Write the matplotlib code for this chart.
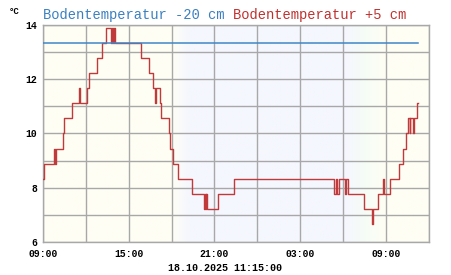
import numpy as np
import pandas as pd
import matplotlib
matplotlib.use("Agg")
import matplotlib.pyplot as plt
import matplotlib.dates as mdates
from matplotlib.colors import to_rgb

# hours after 17.10.2025 09:00, step values in degC
red_hours = [0.0, 0.07, 0.77, 0.84, 0.91, 1.37, 1.49, 2.01, 2.52, 2.57, 3.06, 3.24,
             3.76, 4.16, 4.41, 4.77, 4.84, 4.91, 4.98, 5.05, 6.85, 7.45, 7.73, 7.85,
             7.92, 8.20, 8.27, 8.83, 8.92, 9.13, 9.48, 10.42, 11.25, 11.32, 11.40,
             11.44, 11.47, 12.24, 13.38, 20.39, 20.50, 20.56, 20.72, 21.16, 21.20,
             21.32, 22.50, 23.03, 23.07, 23.45, 23.80, 23.84, 24.32, 24.90, 25.20,
             25.44, 25.56, 25.67, 25.72, 25.90, 25.98, 26.19, 26.25]
red_vals = [8.33, 8.89, 9.44, 8.89, 9.44, 10.00, 10.56, 11.11, 11.67, 11.11, 11.67, 12.22,
            12.78, 13.33, 13.89, 13.33, 13.89, 13.33, 13.89, 13.33, 12.78, 12.22, 11.67, 11.11,
            11.67, 11.11, 10.56, 10.00, 9.44, 8.89, 8.33, 7.78, 7.22, 7.78, 7.22,
            7.78, 7.22, 7.78, 8.33, 7.78, 8.33, 7.78, 8.33, 7.78, 8.33,
            7.78, 7.22, 6.67, 7.22, 7.78, 8.33, 7.78, 8.33, 8.89, 9.44,
            10.00, 10.56, 10.00, 10.56, 10.00, 10.56, 11.11, 11.11]
blue_hours = [0.0, 26.25]
blue_vals = [13.33, 13.33]

start = pd.Timestamp("2025-10-17 09:00")
end = pd.Timestamp("2025-10-18 12:00")
stamp = "18.10.2025 11:15:00"
title_blue = "Bodentemperatur -20 cm"
title_red = "Bodentemperatur +5 cm"

red_t = start + pd.to_timedelta(red_hours, unit="h")
blue_t = start + pd.to_timedelta(blue_hours, unit="h")

fig = plt.figure(figsize=(4.51, 2.75), dpi=100)
ax = fig.add_axes([0.0953, 0.1189, 0.8553, 0.7913])

# day / night background
day = np.array(to_rgb("#fffef4"))
night = np.array(to_rgb("#f5f7fe"))
mid = np.array(to_rgb("#f6fdf6"))
xs = np.linspace(0, 27, 541)
cols = []
for h in xs:
    if h < 9:
        c = day
    elif h < 10.2:
        f = (h - 9) / 1.2
        c = day * (1 - f) + night * f
    elif h < 21.3:
        c = night
    elif h < 22.6:
        f = (h - 21.3) / 1.3
        c = night * (1 - f) + mid * f
    elif h < 24.0:
        f = (h - 22.6) / 1.4
        c = mid * (1 - f) + day * f
    else:
        c = day
    cols.append(c)
img = np.array(cols)[None, :, :]
x0, x1 = mdates.date2num(start), mdates.date2num(end)
ax.imshow(img, extent=[x0, x1, 6, 14], aspect="auto", zorder=0, interpolation="bilinear")

ax.step(red_t, red_vals, where="post", color="#c0393b", lw=1.0, zorder=4)
ax.plot(blue_t, blue_vals, color="#3f87c8", lw=1.1, zorder=5)

ax.set_xlim(x0, x1)
ax.set_ylim(6, 14)
ax.xaxis.set_major_locator(mdates.HourLocator(byhour=[3, 9, 15, 21]))
ax.xaxis.set_minor_locator(mdates.HourLocator(byhour=[0, 6, 12, 18]))
ax.xaxis.set_major_formatter(mdates.DateFormatter("%H:%M"))
ax.set_yticks([6, 8, 10, 12, 14])
ax.set_yticks([7, 9, 11, 13], minor=True)
ax.grid(True, which="both", color="#a8a8a8", lw=1.0, zorder=1)
for line in ax.get_xgridlines() + ax.get_ygridlines():
    line.set_zorder(1)
ax.tick_params(which="both", length=0, labelsize=7.0)
ax.tick_params(axis="x", pad=5)
ax.tick_params(axis="y", pad=4)
for lab in ax.get_xticklabels() + ax.get_yticklabels():
    lab.set_family("Liberation Mono")
    lab.set_fontweight("bold")
for s in ax.spines.values():
    s.set_color("#a8a8a8")
    s.set_linewidth(1.0)

fig.text(0.02, 0.975, "°C", fontsize=6.5, fontweight="bold", family="Liberation Mono",
         va="top", ha="left")
fig.text(0.095, 0.972, title_blue, fontsize=9.9, color="#3a80c0", family="Liberation Mono",
         va="top", ha="left")
fig.text(0.516, 0.972, title_red, fontsize=9.9, color="#c0302f", family="Liberation Mono",
         va="top", ha="left")
fig.text(0.5, 0.008, stamp, fontsize=7.2, fontweight="bold", family="Liberation Mono",
         va="bottom", ha="center")

fig.savefig("out.png", dpi=100)
